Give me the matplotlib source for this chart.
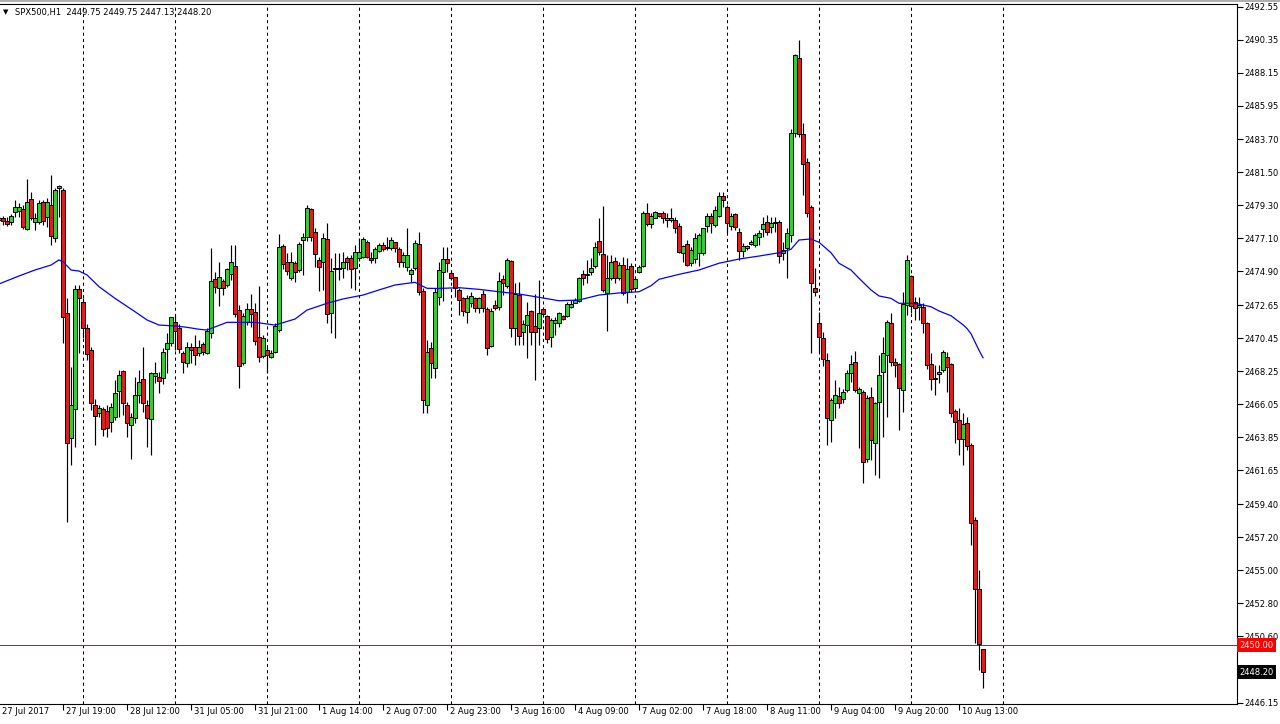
import numpy as np
import matplotlib
matplotlib.use('Agg')
import matplotlib.pyplot as plt
import matplotlib.transforms as mtransforms

# SPX500 H1 candles, one entry per bar (bar 0 = 27 Jul 2017 00:00, last bar = 10 Aug 20:00)
opens = [2478.33, 2478.47, 2478.27, 2478.20, 2478.89, 2478.95, 2479.05, 2477.75, 2479.71, 2478.18,
         2478.22, 2479.55, 2478.55, 2479.33, 2477.15, 2480.45, 2480.33, 2472.11, 2463.82, 2465.71,
         2473.73, 2472.85, 2471.11, 2469.65, 2465.98, 2465.49, 2465.71, 2465.62, 2464.85, 2465.22,
         2466.95, 2468.25, 2465.98, 2464.65, 2465.11, 2466.65, 2467.75, 2465.98, 2465.05, 2467.95,
         2467.85, 2467.78, 2469.71, 2470.11, 2471.55, 2471.11, 2469.45, 2468.82, 2469.89, 2469.89,
         2469.49, 2470.07, 2469.45, 2470.78, 2474.38, 2473.78, 2474.27, 2474.00, 2474.73, 2475.27,
         2472.33, 2468.78, 2471.55, 2472.38, 2472.22, 2470.51, 2469.29, 2469.67, 2469.22, 2469.51,
         2471.00, 2476.62, 2475.51, 2474.49, 2475.45, 2475.00, 2477.00, 2477.22, 2479.07, 2477.55,
         2475.67, 2475.55, 2477.07, 2472.11, 2475.05, 2475.13, 2475.11, 2475.82, 2475.82, 2475.11,
         2475.78, 2475.89, 2476.89, 2475.82, 2475.78, 2476.27, 2476.67, 2476.51, 2476.45, 2476.85,
         2476.40, 2475.55, 2475.22, 2474.71, 2475.11, 2476.71, 2473.62, 2466.00, 2469.78, 2468.49,
         2473.22, 2474.85, 2475.73, 2474.80, 2474.51, 2473.67, 2473.11, 2472.22, 2472.82, 2473.11,
         2472.49, 2473.40, 2472.38, 2469.95, 2472.67, 2472.55, 2474.40, 2473.95, 2475.60, 2471.11,
         2473.33, 2470.89, 2471.33, 2472.27, 2471.27, 2471.11, 2472.38, 2471.93, 2470.55, 2471.45,
         2471.45, 2471.93, 2471.93, 2472.51, 2472.82, 2472.93, 2474.73, 2474.73, 2474.85, 2475.29,
         2476.93, 2476.05, 2473.45, 2474.45, 2475.60, 2474.49, 2475.33, 2473.55, 2475.29, 2473.82,
         2474.85, 2475.27, 2478.78, 2478.05, 2478.49, 2478.78, 2478.82, 2478.33, 2478.33, 2478.33,
         2477.93, 2476.11, 2476.71, 2475.45, 2475.71, 2476.11, 2476.15, 2477.93, 2478.62, 2478.00,
         2478.60, 2479.93, 2479.22, 2477.93, 2478.71, 2477.55, 2476.27, 2476.45, 2476.71, 2476.67,
         2477.18, 2477.71, 2478.18, 2477.85, 2478.20, 2478.18, 2476.15, 2476.45, 2477.33, 2484.15,
         2489.11, 2484.05, 2482.18, 2479.18, 2473.82, 2471.45, 2470.45, 2469.00, 2465.00, 2466.15,
         2466.60, 2466.38, 2467.00, 2468.11, 2468.89, 2466.78, 2466.85, 2462.38, 2466.55, 2463.45,
         2466.18, 2468.18, 2469.33, 2471.45, 2468.85, 2468.71, 2467.00, 2472.67, 2474.62, 2472.89,
         2472.51, 2472.55, 2471.45, 2468.71, 2467.82, 2468.05, 2468.33, 2469.18, 2468.71, 2465.60,
         2465.00, 2463.71, 2464.83, 2463.33, 2458.33, 2453.71, 2449.75]

highs = [2478.67, 2478.60, 2478.55, 2478.73, 2479.67, 2479.47, 2479.33, 2481.07, 2480.18, 2478.78,
         2479.67, 2479.67, 2479.78, 2481.33, 2480.47, 2480.67, 2480.47, 2473.11, 2468.55, 2474.00,
         2474.00, 2473.11, 2471.40, 2469.89, 2466.38, 2466.00, 2465.85, 2466.00, 2466.11, 2467.67,
         2468.33, 2468.33, 2466.22, 2465.45, 2467.89, 2468.33, 2469.89, 2466.33, 2468.22, 2468.85,
         2468.22, 2469.82, 2470.78, 2471.89, 2471.98, 2471.40, 2469.60, 2470.22, 2470.11, 2470.67,
         2470.33, 2470.22, 2471.11, 2476.45, 2474.89, 2475.55, 2474.40, 2475.11, 2476.67, 2476.67,
         2472.67, 2472.11, 2472.78, 2473.40, 2472.78, 2473.95, 2470.67, 2469.89, 2469.67, 2471.45,
         2477.38, 2476.71, 2476.11, 2476.22, 2475.62, 2476.89, 2477.45, 2479.33, 2479.11, 2477.78,
         2475.89, 2477.45, 2478.11, 2475.78, 2476.11, 2476.11, 2476.22, 2475.95, 2476.00, 2476.67,
         2477.11, 2477.22, 2477.00, 2476.22, 2476.55, 2476.78, 2476.89, 2477.22, 2477.22, 2476.89,
         2476.55, 2476.22, 2477.78, 2475.15, 2477.00, 2477.55, 2473.80, 2470.33, 2470.22, 2473.78,
         2475.55, 2476.55, 2476.55, 2475.00, 2474.55, 2473.78, 2473.22, 2473.33, 2473.55, 2473.22,
         2473.22, 2473.67, 2472.55, 2472.45, 2473.00, 2474.85, 2474.67, 2475.78, 2475.67, 2474.11,
         2474.22, 2471.67, 2472.89, 2472.33, 2473.38, 2474.33, 2472.55, 2472.00, 2471.78, 2471.89,
         2472.22, 2472.00, 2472.89, 2473.00, 2473.11, 2474.55, 2475.00, 2475.67, 2475.78, 2476.89,
         2478.45, 2479.27, 2476.00, 2476.00, 2475.89, 2475.55, 2475.89, 2475.78, 2475.45, 2474.55,
         2475.33, 2478.93, 2479.45, 2478.78, 2478.93, 2478.82, 2478.93, 2478.78, 2479.15, 2478.55,
         2478.11, 2476.67, 2477.00, 2476.55, 2477.45, 2477.49, 2477.78, 2478.78, 2478.78, 2479.27,
         2480.22, 2480.22, 2479.33, 2478.82, 2478.82, 2477.78, 2476.78, 2476.67, 2477.00, 2477.45,
         2477.67, 2478.55, 2478.67, 2478.55, 2478.55, 2478.33, 2476.89, 2477.78, 2484.38, 2489.40,
         2490.33, 2484.78, 2482.45, 2479.33, 2475.11, 2472.22, 2470.89, 2469.45, 2466.45, 2467.67,
         2467.22, 2467.05, 2468.33, 2469.33, 2469.62, 2467.18, 2467.00, 2466.67, 2467.18, 2466.22,
         2469.33, 2470.55, 2471.67, 2472.11, 2469.11, 2468.78, 2473.55, 2476.00, 2474.67, 2473.22,
         2473.22, 2472.78, 2471.55, 2469.49, 2468.67, 2468.67, 2469.67, 2469.55, 2468.78, 2465.73,
         2465.80, 2465.45, 2465.22, 2463.45, 2458.55, 2455.00, 2449.75]

lows = [2477.67, 2478.00, 2477.93, 2478.00, 2478.55, 2478.55, 2477.71, 2477.67, 2478.33, 2477.67,
        2478.07, 2478.00, 2477.89, 2476.67, 2476.89, 2478.55, 2470.15, 2458.22, 2462.00, 2463.22,
        2469.45, 2470.45, 2469.00, 2465.67, 2463.33, 2465.22, 2463.95, 2463.89, 2464.22, 2465.00,
        2465.18, 2465.33, 2463.89, 2462.38, 2464.78, 2466.11, 2465.55, 2463.22, 2462.65, 2467.45,
        2466.82, 2467.38, 2468.11, 2469.93, 2469.67, 2469.49, 2468.11, 2468.55, 2468.78, 2468.67,
        2469.27, 2469.33, 2469.38, 2470.45, 2473.45, 2472.62, 2473.33, 2473.89, 2474.33, 2471.89,
        2467.15, 2468.67, 2471.33, 2471.22, 2470.00, 2468.89, 2469.11, 2468.11, 2469.11, 2469.45,
        2470.85, 2475.07, 2474.67, 2474.33, 2474.22, 2474.85, 2474.67, 2476.93, 2476.93, 2475.22,
        2473.60, 2473.67, 2471.45, 2470.78, 2470.49, 2474.33, 2474.45, 2475.00, 2473.78, 2473.67,
        2475.60, 2475.82, 2475.78, 2475.45, 2475.45, 2476.18, 2476.27, 2476.33, 2476.33, 2476.22,
        2475.22, 2475.22, 2474.93, 2474.22, 2475.00, 2473.33, 2465.47, 2465.47, 2467.78, 2467.78,
        2472.67, 2472.93, 2474.89, 2474.33, 2473.22, 2472.00, 2471.95, 2471.49, 2472.55, 2472.22,
        2472.11, 2472.18, 2469.33, 2469.89, 2472.33, 2472.33, 2473.33, 2473.78, 2470.55, 2470.00,
        2470.00, 2470.00, 2469.11, 2470.00, 2467.67, 2470.00, 2471.89, 2470.11, 2469.89, 2470.67,
        2471.22, 2471.67, 2471.89, 2472.45, 2472.78, 2472.89, 2474.00, 2474.11, 2474.67, 2475.15,
        2476.00, 2473.55, 2470.93, 2474.33, 2474.11, 2474.33, 2473.33, 2472.78, 2473.55, 2473.78,
        2474.78, 2475.22, 2477.93, 2477.78, 2478.45, 2478.55, 2478.11, 2477.89, 2478.22, 2477.45,
        2476.15, 2475.55, 2475.27, 2475.27, 2475.49, 2475.27, 2476.00, 2477.55, 2477.45, 2477.89,
        2478.51, 2479.22, 2477.45, 2477.67, 2477.67, 2475.67, 2475.89, 2476.33, 2476.67, 2476.55,
        2476.67, 2477.22, 2477.33, 2477.45, 2477.55, 2475.45, 2475.67, 2474.45, 2476.89, 2483.89,
        2483.89, 2480.00, 2478.51, 2469.49, 2473.27, 2469.55, 2468.60, 2463.33, 2463.55, 2465.11,
        2465.78, 2466.11, 2466.89, 2467.55, 2466.89, 2463.11, 2460.82, 2462.22, 2462.33, 2461.33,
        2461.11, 2463.85, 2465.22, 2468.62, 2467.89, 2464.33, 2465.55, 2472.00, 2472.11, 2471.67,
        2471.67, 2470.78, 2468.38, 2467.00, 2466.67, 2467.45, 2468.22, 2466.89, 2465.22, 2463.45,
        2462.67, 2462.00, 2463.00, 2456.67, 2450.11, 2448.33, 2447.13]

closes = [2478.47, 2478.27, 2478.07, 2478.60, 2479.18, 2479.18, 2477.89, 2479.55, 2478.45, 2478.45,
          2479.45, 2478.29, 2479.55, 2477.29, 2480.33, 2480.60, 2471.85, 2463.49, 2466.00, 2473.73,
          2473.15, 2471.11, 2469.38, 2466.11, 2465.25, 2465.78, 2464.38, 2464.49, 2465.89, 2466.78,
          2467.98, 2466.11, 2464.78, 2465.22, 2466.65, 2467.53, 2466.11, 2465.11, 2468.11, 2468.11,
          2467.62, 2469.51, 2470.11, 2471.85, 2470.95, 2469.71, 2468.89, 2469.85, 2469.65, 2469.31,
          2469.89, 2469.51, 2470.93, 2474.27, 2473.85, 2474.51, 2473.78, 2475.07, 2475.51, 2472.05,
          2468.62, 2471.93, 2472.38, 2472.05, 2470.29, 2469.18, 2470.45, 2469.33, 2469.45, 2471.29,
          2476.51, 2475.38, 2474.93, 2475.55, 2474.85, 2476.71, 2477.18, 2479.11, 2477.22, 2476.05,
          2475.22, 2477.11, 2472.05, 2474.93, 2475.15, 2475.09, 2475.51, 2475.51, 2475.07, 2476.18,
          2476.18, 2477.05, 2475.89, 2475.67, 2476.40, 2476.67, 2476.40, 2476.45, 2477.00, 2476.49,
          2475.55, 2476.00, 2476.00, 2475.00, 2476.78, 2473.51, 2466.33, 2469.55, 2468.78, 2473.55,
          2475.00, 2475.73, 2475.49, 2474.49, 2473.78, 2473.00, 2472.27, 2473.11, 2473.27, 2472.49,
          2473.11, 2472.49, 2469.82, 2472.27, 2472.45, 2474.27, 2474.11, 2475.67, 2471.11, 2473.40,
          2470.62, 2471.38, 2472.00, 2470.85, 2470.85, 2472.11, 2472.05, 2470.40, 2471.67, 2471.67,
          2472.11, 2471.71, 2472.71, 2472.73, 2473.00, 2474.49, 2474.45, 2474.67, 2475.15, 2476.51,
          2476.18, 2473.67, 2474.45, 2475.51, 2474.45, 2475.33, 2473.49, 2475.07, 2473.71, 2474.40,
          2475.22, 2478.78, 2478.05, 2478.60, 2478.89, 2478.62, 2478.45, 2478.49, 2478.49, 2477.78,
          2476.22, 2476.60, 2475.33, 2476.33, 2477.11, 2477.33, 2477.78, 2478.62, 2478.11, 2479.00,
          2479.93, 2479.67, 2478.11, 2478.62, 2477.89, 2476.29, 2476.60, 2476.60, 2476.87, 2477.33,
          2477.49, 2478.05, 2477.55, 2478.11, 2478.13, 2475.95, 2476.33, 2477.45, 2484.11, 2489.33,
          2484.05, 2482.05, 2478.78, 2474.11, 2473.55, 2470.55, 2469.05, 2465.11, 2466.33, 2466.67,
          2466.15, 2466.85, 2468.11, 2468.71, 2467.00, 2467.05, 2462.22, 2466.45, 2463.67, 2466.11,
          2468.00, 2469.45, 2471.51, 2468.89, 2468.67, 2467.11, 2472.71, 2475.67, 2472.62, 2472.45,
          2472.67, 2471.45, 2468.67, 2467.71, 2467.75, 2468.22, 2469.51, 2468.55, 2465.45, 2464.89,
          2463.71, 2464.71, 2463.25, 2458.11, 2453.71, 2450.07, 2448.20]

# moving average (blue line), read at selected bars
ma_bars = [0, 5, 9, 13, 15, 16, 18, 20, 22, 25, 29, 34, 37, 40, 44, 47, 50, 52, 57, 64,
           69, 74, 77, 82, 86, 91, 95, 99, 104, 107, 110, 115, 120, 125, 130, 135, 140, 145, 150, 155,
           160, 163, 165, 170, 175, 180, 185, 190, 195, 198, 200, 203, 205, 208, 210, 213, 215, 218, 220, 223,
           225, 228, 230, 233, 235, 238, 240, 241, 242, 243, 244, 245, 246]
ma_vals = [2474.07, 2474.60, 2475.00, 2475.33, 2475.67, 2475.55, 2475.00, 2474.93, 2474.67, 2473.89,
           2473.11, 2472.22, 2471.67, 2471.33, 2471.27, 2471.18, 2471.05, 2471.00, 2471.51, 2471.51,
           2471.33, 2471.73, 2472.33, 2472.78, 2473.07, 2473.33, 2473.67, 2474.00, 2474.18, 2473.78,
           2473.77, 2473.82, 2473.71, 2473.55, 2473.40, 2473.18, 2472.95, 2473.00, 2473.33, 2473.47,
           2473.55, 2473.95, 2474.38, 2474.71, 2475.00, 2475.45, 2475.73, 2475.93, 2476.15, 2476.38,
           2477.00, 2477.07, 2476.85, 2476.15, 2475.45, 2475.00, 2474.45, 2473.67, 2473.27, 2473.11,
           2472.78, 2472.78, 2472.73, 2472.55, 2472.27, 2471.95, 2471.55, 2471.35, 2471.10, 2470.75,
           2470.20, 2469.65, 2469.15]

# axis labels
price_ticks = [2492.55, 2490.35, 2488.15, 2485.95, 2483.70, 2481.50, 2479.30, 2477.10, 2474.90,
               2472.65, 2470.45, 2468.25, 2466.05, 2463.85, 2461.65, 2459.40, 2457.20, 2455.00,
               2452.80, 2450.60, 2446.15]
time_bars = [0, 16, 32, 48, 64, 80, 96, 112, 128, 144, 160, 176, 192, 208, 224, 240]
time_labels = ['27 Jul 2017', '27 Jul 19:00', '28 Jul 12:00', '31 Jul 05:00', '31 Jul 21:00',
               '1 Aug 14:00', '2 Aug 07:00', '2 Aug 23:00', '3 Aug 16:00', '4 Aug 09:00',
               '7 Aug 02:00', '7 Aug 18:00', '8 Aug 11:00', '9 Aug 04:00', '9 Aug 20:00',
               '10 Aug 13:00']
grid_bars = [21, 44, 67, 90, 113, 136, 159, 182, 205, 228, 251]
hline_price = 2450.00

bull = '#32cd32'
bear = '#dc1e1e'

o = np.array(opens)
h = np.array(highs)
l = np.array(lows)
c = np.array(closes)
x = np.arange(len(c))

fig = plt.figure(figsize=(12.8, 7.24), dpi=100)
ax = fig.add_axes([0.0, 20 / 724, 1237 / 1280, 700 / 724])

for gb in grid_bars:
    ax.axvline(gb, color='black', lw=0.75, ls=(0, (3, 3)), zorder=1)

ax.axhline(hline_price, color='#e01010', lw=0.75, zorder=1)

# candles
up = c >= o
lo = np.minimum(o, c)
hgt = np.abs(c - o)
ax.vlines(x, l, h, color='black', lw=0.85, zorder=2)
ax.bar(x[up], hgt[up], bottom=lo[up], width=0.8, color=bull, edgecolor='black', linewidth=0.7, zorder=3)
ax.bar(x[~up], hgt[~up], bottom=lo[~up], width=0.8, color=bear, edgecolor='black', linewidth=0.7, zorder=3)

ax.plot(ma_bars, ma_vals, color='#0000ff', lw=0.9, zorder=4)

ax.set_xlim(0.25, 309.5)
ax.set_ylim(2446.067, 2492.733)

# right price axis
ax.yaxis.tick_right()
ax.set_yticks(price_ticks)
ax.set_yticklabels(['%.2f' % v for v in price_ticks])
ax.tick_params(axis='y', direction='out', length=4, width=0.8, labelsize=6, pad=1.5)

# bottom time axis
ax.set_xticks(time_bars[1:])
ax.set_xticklabels([])
ax.tick_params(axis='x', direction='out', length=4, width=0.8)
for b, lab in zip(time_bars, time_labels):
    ax.annotate(lab, xy=(b, 0), xycoords=('data', 'axes fraction'), xytext=(3, -3),
                textcoords='offset pixels', ha='left', va='top', fontsize=6, annotation_clip=False)

for side in ['top', 'right', 'bottom']:
    ax.spines[side].set_linewidth(0.8)
ax.spines['left'].set_visible(False)

# price boxes on the right axis
trans = mtransforms.blended_transform_factory(ax.transAxes, ax.transData)
ax.text(1.002, hline_price, '2450.00', transform=trans, color='white', fontsize=6,
        ha='left', va='center', bbox=dict(facecolor='#ff0000', edgecolor='none', pad=1.6))
ax.text(1.002, closes[-1], '%.2f' % closes[-1], transform=trans, color='white', fontsize=6,
        ha='left', va='center', bbox=dict(facecolor='black', edgecolor='none', pad=1.6))

# header
fig.text(3 / 1280, 1 - 12 / 724, '\u25bc', fontsize=5, va='center', ha='left')
fig.text(15 / 1280, 1 - 12 / 724, 'SPX500,H1  %.2f %.2f %.2f %.2f' % (opens[-1], highs[-1], lows[-1], closes[-1]),
         fontsize=6, va='center', ha='left')
fig.add_artist(plt.Line2D([0, 1], [1 - 0.5 / 724, 1 - 0.5 / 724], color='#a0a0a0', lw=1.2))

fig.savefig('out.png', dpi=100)
